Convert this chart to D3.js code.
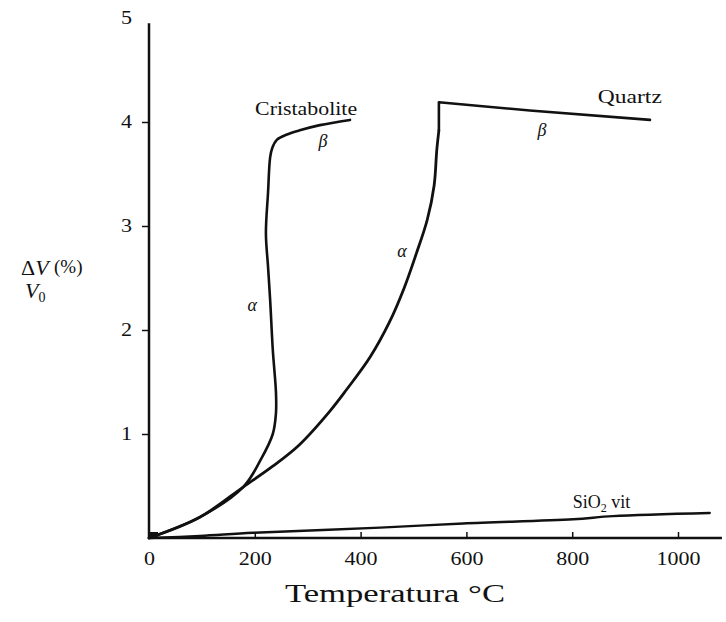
<!DOCTYPE html>
<html>
<head>
<meta charset="utf-8">
<script src="https://cdn.jsdelivr.net/npm/d3@7"></script>
<style>
  body { margin: 0; background: #fff; }
  text { font-family: "Liberation Serif", "DejaVu Serif", serif; fill: #111; }
</style>
</head>
<body>
<div id="chart"></div>
<script>
// temperature (°C) and ΔV/V0 (%)
const quartzAlphaT = [0, 96, 178, 234, 285, 342, 374, 418, 454, 482, 505, 526, 539, 544, 548];
const quartzAlphaV = [0, 0.20, 0.49, 0.69, 0.90, 1.22, 1.43, 1.74, 2.07, 2.40, 2.73, 3.06, 3.39, 3.73, 3.92];

const quartzBetaT = [548, 548, 720, 947];
const quartzBetaV = [3.92, 4.19, 4.11, 4.02];

const cristT = [0, 96, 178, 212, 234, 240, 240, 234, 229, 225, 221, 225, 229, 233, 242, 261, 285, 323, 380];
const cristV = [0, 0.20, 0.49, 0.76, 1.00, 1.20, 1.40, 1.81, 2.29, 2.61, 2.93, 3.32, 3.66, 3.75, 3.83, 3.88, 3.92, 3.97, 4.02];

const vitT = [0, 96, 197, 437, 594, 802, 877, 1060];
const vitV = [0, 0.02, 0.05, 0.10, 0.14, 0.18, 0.21, 0.24];

const xTicks = [0, 200, 400, 600, 800, 1000];
const yTicks = [1, 2, 3, 4, 5];

const width = 726;
const height = 622;

let svg = d3.select("#chart")
    .append("svg")
    .attr("width", width)
    .attr("height", height);

let xScale = d3.scaleLinear()
    .domain([0, 1000])
    .range([149, 678]);

let yScale = d3.scaleLinear()
    .domain([0, 5])
    .range([538, 18]);

const zip = (xs, ys) => xs.map((t, i) => [t, ys[i]]);

// axes (the scanned figure is a bit stretched sideways, so widen the digits)
let xAxis = svg.append("g")
    .attr("transform", "translate(0," + yScale(0) + ")")
    .call(d3.axisBottom(xScale)
        .tickValues(xTicks)
        .tickFormat(d3.format("d"))
        .tickSizeInner(-6)
        .tickSizeOuter(0)
        .tickPadding(14));
xAxis.select(".domain").remove();
xAxis.selectAll("line").attr("stroke", "#111").attr("stroke-width", 1.5);
xAxis.selectAll("text")
    .style("font-size", "18px")
    .attr("font-family", null)
    .attr("textLength", d => String(d).length * 11)
    .attr("lengthAdjust", "spacingAndGlyphs");

let yAxis = svg.append("g")
    .attr("transform", "translate(" + xScale(0) + ",0)")
    .call(d3.axisLeft(yScale)
        .tickValues(yTicks)
        .tickFormat(d3.format("d"))
        .tickSizeInner(7)
        .tickSizeOuter(0)
        .tickPadding(10));
yAxis.select(".domain").remove();
yAxis.selectAll("line").attr("stroke", "#111").attr("stroke-width", 1.5)
    .filter(d => d === 5).remove();
yAxis.selectAll("text")
    .style("font-size", "18px")
    .attr("font-family", null)
    .attr("textLength", 11)
    .attr("lengthAdjust", "spacingAndGlyphs");

// axis lines
svg.append("line")
    .attr("x1", xScale(0)).attr("x2", xScale(0))
    .attr("y1", yScale(0)).attr("y2", yScale(4.95))
    .attr("stroke", "#111").attr("stroke-width", 2.5);
svg.append("line")
    .attr("x1", xScale(0)).attr("x2", xScale(1083))
    .attr("y1", yScale(0)).attr("y2", yScale(0))
    .attr("stroke", "#111").attr("stroke-width", 2.5);

// curves
let smooth = d3.line()
    .curve(d3.curveCatmullRom.alpha(0.5))
    .x(d => xScale(d[0]))
    .y(d => yScale(d[1]));
let straight = d3.line()
    .x(d => xScale(d[0]))
    .y(d => yScale(d[1]));

const curves = [
    {pts: zip(quartzAlphaT, quartzAlphaV), gen: smooth, w: 2.8},
    {pts: zip(quartzBetaT, quartzBetaV), gen: straight, w: 2.6},
    {pts: zip(cristT, cristV), gen: smooth, w: 2.6},
    {pts: zip(vitT, vitV), gen: smooth, w: 2.4}
];

svg.selectAll(".curve")
    .data(curves)
    .enter()
    .append("path")
    .attr("class", "curve")
    .attr("fill", "none")
    .attr("stroke", "#111")
    .attr("stroke-width", d => d.w)
    .attr("stroke-linejoin", "round")
    .attr("stroke-linecap", "round")
    .attr("d", d => d.gen(d.pts));

// small blob at origin
svg.append("rect")
    .attr("x", xScale(0)).attr("y", yScale(0) - 6)
    .attr("width", 9).attr("height", 6)
    .attr("fill", "#111");

// labels
function label(t, v, txt, size, anchor, italic) {
    return svg.append("text")
        .attr("x", xScale(t))
        .attr("y", yScale(v))
        .attr("text-anchor", anchor)
        .style("font-size", size + "px")
        .style("font-style", italic ? "italic" : "normal")
        .text(txt);
}

label(297, 4.07, "Cristabolite", 18, "middle", false)
    .attr("textLength", 102).attr("lengthAdjust", "spacingAndGlyphs");
label(329, 3.76, "β", 18, "middle", true);
label(195, 2.18, "α", 18, "middle", true);
label(909, 4.18, "Quartz", 18, "middle", false)
    .attr("textLength", 64).attr("lengthAdjust", "spacingAndGlyphs");
label(743, 3.87, "β", 18, "middle", true);
label(478, 2.70, "α", 18, "middle", true);

let vit = label(801, 0.29, "SiO", 18, "start", false);
vit.append("tspan").attr("dy", 4).style("font-size", "12px").text("2");
vit.append("tspan").attr("dy", -4).text(" vit");

// y axis title
svg.append("text")
    .attr("x", 21).attr("y", 275)
    .style("font-size", "22px")
    .html('Δ<tspan font-style="italic">V</tspan>');
svg.append("text")
    .attr("x", 25).attr("y", 298)
    .style("font-size", "22px")
    .html('<tspan font-style="italic">V</tspan><tspan font-size="14px" dy="4">0</tspan>');
svg.append("text")
    .attr("x", 54).attr("y", 273)
    .style("font-size", "19px")
    .text("(%)");

// x axis title
svg.append("text")
    .attr("x", 395).attr("y", 602)
    .attr("text-anchor", "middle")
    .style("font-size", "25px")
    .attr("textLength", 220)
    .attr("lengthAdjust", "spacingAndGlyphs")
    .text("Temperatura  °C");
</script>
</body>
</html>
